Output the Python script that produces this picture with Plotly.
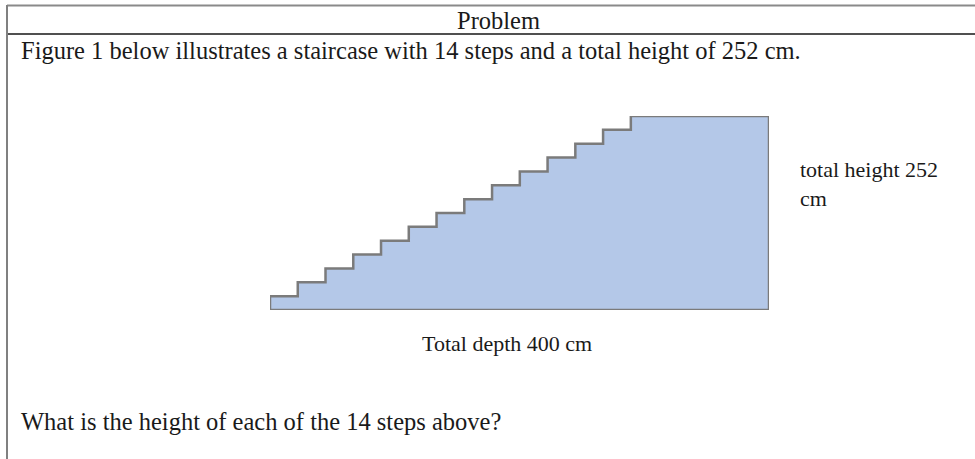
import plotly.graph_objects as go

# ---- data ----
step_count = 14
total_height_cm = 252
total_depth_cm = 400
riser_heights_cm = [18, 18, 18, 18, 18, 18, 18, 18, 18, 18, 18, 18, 18, 18]
tread_depths_cm = [22.25, 22.25, 22.25, 22.25, 22.25, 22.25, 22.25,
                   22.25, 22.25, 22.25, 22.25, 22.25, 22.25, 110.75]

title_text = "Problem"
intro_text = "Figure 1 below illustrates a staircase with 14 steps and a total height of 252 cm."
height_label = "total height 252<br>cm"
depth_label = "Total depth 400 cm"
question_text = "What is the height of each of the 14 steps above?"

# ---- build staircase outline from the data ----
xs, ys = [0], [0]
x, y = 0.0, 0.0
for rise, run in zip(riser_heights_cm, tread_depths_cm):
    y += rise
    xs.append(x); ys.append(y)
    x += run
    xs.append(x); ys.append(y)
xs.append(x); ys.append(0)
xs.append(0); ys.append(0)

W, H = 975, 459
def px(v):
    return v / W
def py(v):
    return 1 - v / H

fig = go.Figure()
fig.add_trace(go.Scatter(
    x=xs, y=ys, mode="lines", fill="toself",
    fillcolor="#b4c8e8",
    line=dict(color="#7b7b7b", width=2.5),
    hoverinfo="skip", showlegend=False,
))

axis_off = dict(visible=False, showgrid=False, zeroline=False, fixedrange=True)
fig.update_layout(
    width=W, height=H,
    margin=dict(l=0, r=0, t=0, b=0),
    paper_bgcolor="white", plot_bgcolor="rgba(0,0,0,0)",
    xaxis=dict(domain=[px(270), px(769)], range=[0, total_depth_cm], **axis_off),
    yaxis=dict(domain=[py(310), py(116)], range=[0, total_height_cm], **axis_off),
    font=dict(family="Liberation Serif, Times New Roman, serif", size=24.5, color="#1a1a1a"),
)

# table borders
line_shapes = [
    dict(x0=px(7), x1=1.02, y0=py(5.5), y1=py(5.5), color="#8a8a8a"),
    dict(x0=px(7), x1=1.02, y0=py(34), y1=py(34), color="#505050"),
    dict(x0=px(7), x1=px(7), y0=py(5), y1=-0.02, color="#808080"),
]
for s in line_shapes:
    fig.add_shape(type="line", xref="paper", yref="paper",
                  x0=s["x0"], x1=s["x1"], y0=s["y0"], y1=s["y1"],
                  line=dict(color=s["color"], width=2))

def note(text, x, y, size, xanchor="left", yanchor="middle", align="left"):
    fig.add_annotation(text=text, xref="paper", yref="paper",
                       x=px(x), y=py(y), xanchor=xanchor, yanchor=yanchor,
                       align=align, showarrow=False, font=dict(size=size))

note(title_text, 498, 20.5, 24.5, xanchor="center")
note(intro_text, 19, 50.5, 24.5)
note(height_label, 798, 184, 22)
note(depth_label, 507, 343, 22, xanchor="center")
note(question_text, 19, 421, 24.5)

fig.write_html("out.html", config={"displayModeBar": False},
               post_script="document.body.style.margin='0';")
